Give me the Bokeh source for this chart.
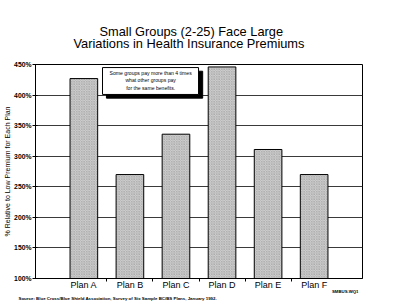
from bokeh.plotting import figure
from bokeh.models import Range1d, FixedTicker, Title
from bokeh.core.properties import value
from bokeh.embed import file_html
from bokeh.resources import INLINE

# Premiums relative to the lowest premium for each plan (%)
plans = ["Plan A", "Plan B", "Plan C", "Plan D", "Plan E", "Plan F"]
relative_pct = [427, 270, 336, 446, 311, 270]
y_ticks = [100, 150, 200, 250, 300, 350, 400, 450]

title_lines = ["Small Groups (2-25) Face Large",
               "Variations in Health Insurance Premiums"]
callout_lines = ["Some groups pay more than 4 times",
                 "what other groups pay",
                 "for the same benefits."]
y_label = "% Relative to Low Premium for Each Plan"
source_text = ("Source:  Blue Cross/Blue Shield Association, Survey of Six Sample "
               "BC/BS Plans, January 1992.")
file_tag = "SMBUS.WQ1"

FONT = "Liberation Sans"
xs = [i + 1 for i in range(len(plans))]

p = figure(title=None, width=400, height=305, output_backend="svg",
           toolbar_location=None,
           x_range=Range1d(-0.05, 7.05), y_range=Range1d(100, 450),
           min_border_left=35, min_border_right=38,
           min_border_top=64, min_border_bottom=27)
p.background_fill_color = "white"
p.border_fill_color = "white"
p.outline_line_color = "black"
p.outline_line_width = 1

# bars with a fine stipple fill
p.vbar(x=xs, top=relative_pct, bottom=100, width=0.6,
       fill_color="#cfcfcf", line_color="black", line_width=1,
       hatch_pattern="x", hatch_scale=2.5, hatch_color="#777777",
       hatch_weight=0.5, hatch_alpha=0.6)

# y axis
p.yaxis.ticker = FixedTicker(ticks=y_ticks)
p.yaxis.major_label_overrides = {t: f"{t}%" for t in y_ticks}
p.yaxis.major_label_text_font = FONT
p.yaxis.major_label_text_font_size = "6.8px"
p.yaxis.major_label_text_font_style = "bold"
p.yaxis.major_label_text_color = "black"
p.yaxis.major_tick_out = 3
p.yaxis.major_tick_in = 2
p.yaxis.minor_tick_line_color = None
p.yaxis.axis_line_color = "black"
p.yaxis.major_label_standoff = 1
p.yaxis.axis_label = y_label
p.yaxis.axis_label_text_font = FONT
p.yaxis.axis_label_text_font_size = "7px"
p.yaxis.axis_label_text_font_style = "normal"
p.yaxis.axis_label_text_color = "black"
p.yaxis.axis_label_standoff = 0

# x axis: plan names under the bars, small ticks between them
p.xaxis.ticker = FixedTicker(ticks=xs, minor_ticks=[x + 0.5 for x in xs[:-1]])
p.xaxis.major_label_overrides = {x: n for x, n in zip(xs, plans)}
p.xaxis.major_label_text_font = FONT
p.xaxis.major_label_text_font_size = "9px"
p.xaxis.major_label_text_color = "black"
p.xaxis.major_tick_in = 0
p.xaxis.major_tick_out = 0
p.xaxis.minor_tick_out = 3
p.xaxis.minor_tick_in = 0
p.xaxis.minor_tick_line_color = "black"
p.xaxis.axis_line_color = "black"
p.xaxis.major_label_standoff = -2

p.xgrid.grid_line_color = None
p.ygrid.ticker = FixedTicker(ticks=y_ticks)
p.ygrid.grid_line_color = "#3a3a3a"
p.ygrid.grid_line_width = 1

# two-line heading above the chart (second line sits nearest the frame;
# the first line's negative standoff tucks it close above the second)
p.add_layout(Title(text=title_lines[1], align="left", offset=38, standoff=28,
                   text_font=FONT, text_font_size="12.8px",
                   text_font_style="normal", text_color="black"), "above")
p.add_layout(Title(text=title_lines[0], align="left", offset=64, standoff=-39,
                   text_font=FONT, text_font_size="12.8px",
                   text_font_style="normal", text_color="black"), "above")

# callout box with drop shadow
p.quad(left=1.49, right=3.58, bottom=395, top=439, fill_color="black",
       line_color="black")
p.quad(left=1.405, right=3.49, bottom=401, top=445, fill_color="white",
       line_color="black", line_width=1)
for i, line in enumerate(callout_lines):
    p.text(x=[2.45], y=[436 - i * 12], text=[line], text_align="center",
           text_baseline="middle", text_font=value(FONT),
           text_font_size="5.1px", text_color="black")

# footer notes below the axis
p.add_layout(Title(text=file_tag, align="right", offset=4, standoff=-8,
                   vertical_align="top",
                   text_font=FONT, text_font_size="4.3px",
                   text_font_style="bold", text_color="black"), "below")
p.add_layout(Title(text=source_text, align="left", offset=-17, standoff=6,
                   vertical_align="top",
                   text_font=FONT, text_font_size="4.4px",
                   text_font_style="bold", text_color="black"), "below")

open("out.html", "w").write(file_html(p, INLINE))
